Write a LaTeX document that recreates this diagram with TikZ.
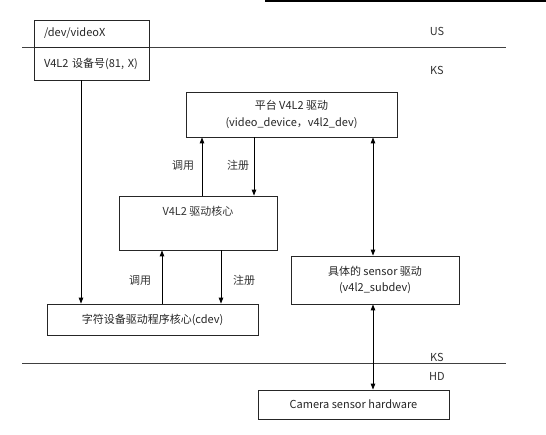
\documentclass[tikz,border=0pt]{standalone}
\usepackage{fontspec}
\setmainfont{Noto Sans CJK SC}
\usetikzlibrary{arrows.meta}
\begin{document}
\begin{tikzpicture}[x=1pt,y=-1pt,
  box/.style={draw=black!85,line width=0.8pt,rectangle,inner sep=0pt,font=\fontsize{11}{13}\selectfont,text=black!85},
  lbl/.style={font=\fontsize{11}{13}\selectfont,text=black!80,inner sep=0pt},
  arr/.style={line width=1pt,draw=black,-{Triangle[length=6pt,width=4.5pt]}},
  darr/.style={line width=1pt,draw=black,{Triangle[length=6pt,width=4.5pt]}-{Triangle[length=6pt,width=4.5pt]}},
  sep/.style={line width=0.7pt,draw=black!75}]
\useasboundingbox (0,0) rectangle (546,434);
\fill[white] (0,0) rectangle (546,434);
% top artifact
\coordinate (t1) at (265,0.8);
\coordinate (t2) at (546,0.8);
\draw[line width=1.6pt,black] (t1) -- (t2);
% separator lines
\coordinate (l1a) at (22,47); \coordinate (l1b) at (506,47);
\coordinate (l2a) at (22,363); \coordinate (l2b) at (506,363);
\draw[sep] (l1a) -- (l1b);
\draw[sep] (l2a) -- (l2b);
\node[lbl] (us) at (437,31) {US};
\node[lbl] (ks1) at (437,70) {KS};
\node[lbl] (ks2) at (437,357) {KS};
\node[lbl] (hd) at (437,376) {HD};
% dev box
\node[box,minimum width=115,minimum height=27,text width=95,align=left] (dev) at (91.5,33.5) {/dev/videoX};
\node[box,minimum width=115,minimum height=33,text width=95,align=left] (num) at (91.5,63.5) {V4L2 设备号(81, X)};
% platform
\node[box,minimum width=211,minimum height=45,align=center] (plat) at (291.5,114.5) {平台 V4L2 驱动\\[4pt](video\_device，v4l2\_dev)};
% core
\node[box,minimum width=158,minimum height=54] (core) at (198,223) {};
\node[lbl] (coret) at (198,211) {V4L2 驱动核心};
% sensor
\node[box,minimum width=168,minimum height=48,align=center] (sens) at (375,280) {具体的 sensor 驱动\\[3pt](v4l2\_subdev)};
% cdev
\node[box,minimum width=211,minimum height=31] (cdev) at (152.5,319.5) {字符设备驱动程序核心(cdev)};
% hardware
\node[box,minimum width=191,minimum height=29] (hw) at (353.5,404.5) {Camera sensor hardware};
% arrows
\draw[arr] (num.south -| 81,0) -- (cdev.north -| 81,0);
\draw[arr] (core.north -| 202,0) -- (plat.south -| 202,0);
\draw[arr] (plat.south -| 254,0) -- (core.north -| 254,0);
\draw[darr] (plat.south -| 373,0) -- (sens.north -| 373,0);
\draw[arr] (cdev.north -| 162,0) -- (core.south -| 162,0);
\draw[arr] (core.south -| 221,0) -- (cdev.north -| 221,0);
\draw[darr] (sens.south -| 373,0) -- (hw.north -| 373,0);
% labels
\node[lbl] (call1) at (183,165) {调用};
\node[lbl] (reg1) at (238,165) {注册};
\node[lbl] (call2) at (140,280) {调用};
\node[lbl] (reg2) at (244,280) {注册};
\end{tikzpicture}
\end{document}
